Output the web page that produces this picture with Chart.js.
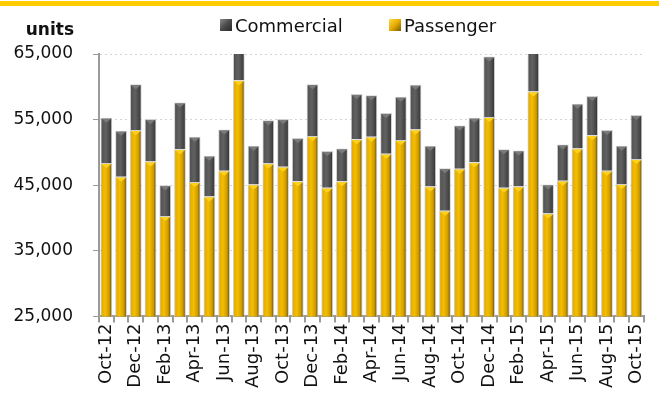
<!DOCTYPE html>
<html>
<head>
<meta charset="utf-8">
<script src="https://cdn.jsdelivr.net/npm/chart.js@4/dist/chart.umd.min.js"></script>
<style>
	html, body { margin: 0; padding: 0; background: #fff; }
	#wrap { width: 659px; height: 393px; position: relative; }
</style>
</head>
<body>
<div id="wrap"><canvas id="sales-chart" width="659" height="393"></canvas></div>
<script>
const months = [
	"Oct-12", "Nov-12", "Dec-12", "Jan-13", "Feb-13", "Mar-13", "Apr-13", "May-13", "Jun-13",
	"Jul-13", "Aug-13", "Sep-13", "Oct-13", "Nov-13", "Dec-13", "Jan-14", "Feb-14", "Mar-14",
	"Apr-14", "May-14", "Jun-14", "Jul-14", "Aug-14", "Sep-14", "Oct-14", "Nov-14", "Dec-14",
	"Jan-15", "Feb-15", "Mar-15", "Apr-15", "May-15", "Jun-15", "Jul-15", "Aug-15", "Sep-15",
	"Oct-15",
];
const passenger = [
	48400, 46300, 53400, 48600, 40300, 50500, 45500, 43300, 47200,
	61000, 45100, 48300, 47800, 45600, 52500, 44600, 45600, 52000,
	52400, 49800, 51900, 53500, 44800, 41100, 47500, 48500, 55400,
	44600, 44800, 59300, 40700, 45700, 50600, 52600, 47200, 45200,
	49000,
];
const commercial = [
	6900, 7000, 7000, 6500, 4700, 7100, 6900, 6200, 6300,
	6500, 5900, 6600, 7300, 6600, 7900, 5600, 5000, 6900,
	6300, 6200, 6600, 6800, 6200, 6500, 6600, 6800, 9200,
	5900, 5500, 7700, 4400, 5500, 6800, 6000, 6200, 5800,
	6700,
];
const yTicks = [25000, 35000, 45000, 55000, 65000];
const legendItems = ["Commercial", "Passenger"];

const FONT = "'DejaVu Sans', sans-serif";
const CAT_PCT = 0.95;
const BAR_PCT = 0.84;

const goldStops = [[0, "#7a5c00"], [0.12, "#e6ac00"], [0.4, "#f4be00"], [0.75, "#cf9a00"], [1, "#4f3b00"]];
const greyStops = [[0, "#2e2e2e"], [0.15, "#555"], [0.45, "#616161"], [0.8, "#454545"], [1, "#262626"]];

function barGradient(c, stops, solid) {
	const chart = c.chart;
	if (c.type !== "data" || !chart.chartArea) return solid;
	const xs = chart.scales.x;
	const cx = xs.getPixelForValue(c.dataIndex);
	const w = (xs.width / months.length) * CAT_PCT * BAR_PCT;
	const g = chart.ctx.createLinearGradient(cx - w / 2, 0, cx + w / 2, 0);
	stops.forEach((s) => g.addColorStop(s[0], s[1]));
	return g;
}

function legendBox(ctx, x, y, stops) {
	const g = ctx.createLinearGradient(x, y, x + 12, y + 12);
	stops.forEach((s) => g.addColorStop(s[0], s[1]));
	ctx.fillStyle = g;
	ctx.fillRect(x, y, 12, 12);
}

// small bevel on the top of each segment
const bevelPlugin = {
	id: "bevel",
	afterDatasetsDraw(chart) {
		const ctx = chart.ctx;
		const area = chart.chartArea;
		ctx.save();
		ctx.beginPath();
		ctx.rect(area.left, area.top, area.right - area.left, area.bottom - area.top);
		ctx.clip();
		chart.data.datasets.forEach((ds, i) => {
			const meta = chart.getDatasetMeta(i);
			meta.data.forEach((bar) => {
				const w = bar.width;
				const x0 = bar.x - w / 2 + 1;
				const x1 = bar.x + w / 2 - 1;
				ctx.beginPath();
				ctx.moveTo(x0, bar.y + 1);
				ctx.lineTo(x1, bar.y + 1);
				ctx.lineTo(bar.x, bar.y + 5);
				ctx.closePath();
				ctx.fillStyle = i === 0 ? "#ffd21a" : "#7a7a7a";
				ctx.fill();
			});
		});
		ctx.restore();
	},
};

const framePlugin = {
	id: "frame",
	beforeDraw(chart) {
		const ctx = chart.ctx;
		ctx.save();
		ctx.fillStyle = "#ffcc00";
		ctx.fillRect(0, 1, chart.width, 5);
		ctx.restore();
	},
	afterDraw(chart) {
		const ctx = chart.ctx;
		const ys = chart.scales.y;
		ctx.save();
		ctx.font = "bold 17px " + FONT;
		ctx.fillStyle = "#111";
		ctx.textAlign = "right";
		ctx.textBaseline = "alphabetic";
		ctx.fillText("units", ys.right - 25, 35);

		// legend
		ctx.font = "18px " + FONT;
		ctx.textAlign = "left";
		const starts = [220, 389];
		legendItems.forEach((name, i) => {
			const x = starts[i];
			legendBox(ctx, x, 19, i === 0 ? [[0, "#8a8a8a"], [0.5, "#4a4a4a"], [1, "#2a2a2a"]] : [[0, "#ffd84a"], [0.5, "#e6ac00"], [1, "#7a5c00"]]);
			ctx.fillStyle = "#111";
			ctx.fillText(name, x + 15, 32);
		});
		ctx.restore();
	},
};

function PrepareSalesChart() {
	const ctx = document.getElementById("sales-chart").getContext("2d");

	new Chart(ctx, {
		type: "bar",
		data: {
			labels: months,
			datasets: [
				{
					label: "Passenger",
					data: passenger,
					backgroundColor: (c) => barGradient(c, goldStops, "#e6ac00"),
					borderColor: "#cfcfcf",
					borderWidth: 1,
					borderSkipped: "bottom",
					categoryPercentage: CAT_PCT,
					barPercentage: BAR_PCT,
				},
				{
					label: "Commercial",
					data: commercial,
					backgroundColor: (c) => barGradient(c, greyStops, "#555"),
					borderColor: "#cfcfcf",
					borderWidth: 1,
					borderSkipped: "bottom",
					categoryPercentage: CAT_PCT,
					barPercentage: BAR_PCT,
				},
			],
		},
		options: {
			responsive: false,
			animation: false,
			layout: {
				padding: { left: 8, right: 1, top: 54, bottom: 4 },
			},
			scales: {
				x: {
					stacked: true,
					grid: {
						offset: true,
						drawOnChartArea: false,
						drawTicks: true,
						tickLength: 6,
						tickColor: "#9a9a9a",
						lineWidth: 2,
					},
					border: { color: "#9a9a9a", width: 2 },
					ticks: {
						autoSkip: false,
						maxRotation: 90,
						minRotation: 90,
						padding: 1,
						color: "#111",
						font: { family: FONT, size: 18 },
						callback: (v, i) => (i % 2 === 0 ? months[i] : ""),
					},
				},
				y: {
					stacked: true,
					min: 25000,
					max: 65000,
					afterBuildTicks: (scale) => {
						scale.ticks = yTicks.map((v) => ({ value: v }));
					},
					afterFit: (scale) => {
						scale.width = 91;
					},
					grid: {
						color: "#d4d4d4",
						tickColor: "#9a9a9a",
						tickLength: 6,
						tickBorderDash: [],
					},
					border: { color: "#9a9a9a", width: 2, dash: [2, 3] },
					ticks: {
						padding: 20,
						color: "#111",
						font: { family: FONT, size: 17 },
						callback: (v) => v.toLocaleString("en-US"),
					},
				},
			},
			plugins: {
				legend: { display: false },
				title: { display: false },
				tooltip: { enabled: false },
			},
		},
		plugins: [bevelPlugin, framePlugin],
	});
}

PrepareSalesChart();
</script>
</body>
</html>
